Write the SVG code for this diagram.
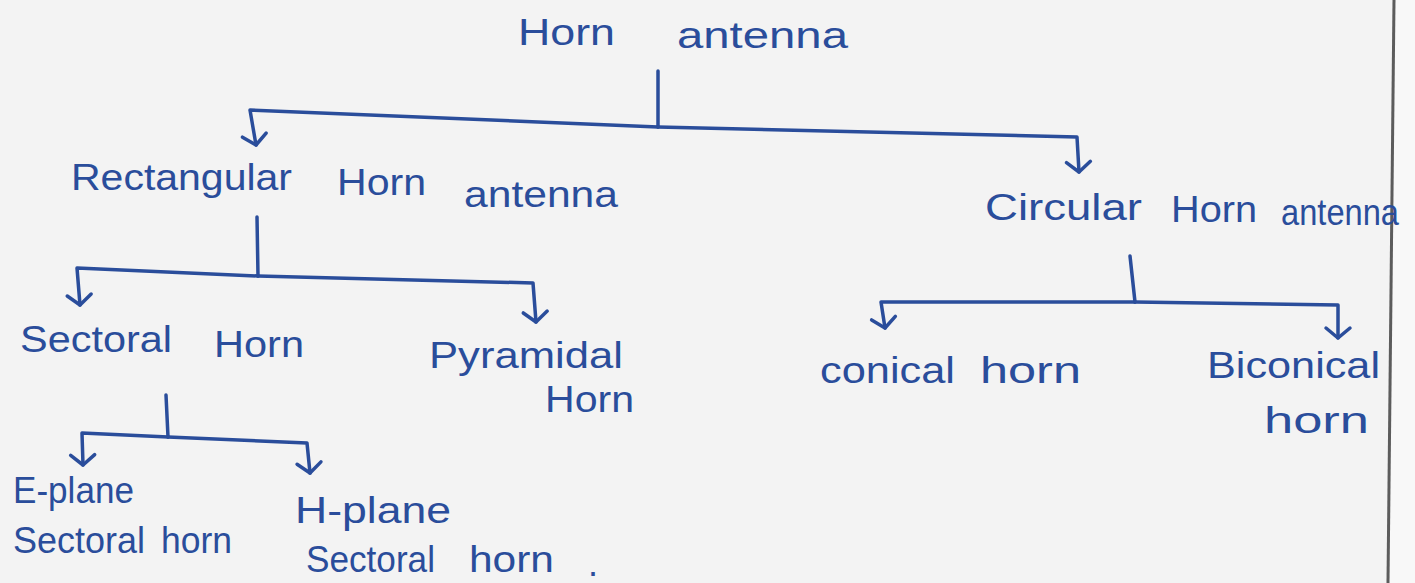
<svg xmlns="http://www.w3.org/2000/svg" width="1415" height="583" viewBox="0 0 1415 583">
<style>
.t{font-family:"Liberation Sans","DejaVu Sans",sans-serif;fill:#2a4d9b;font-size:36px}
.c{fill:none;stroke:#2a4d9b;stroke-width:3.5;stroke-linecap:round;stroke-linejoin:round}
</style>
<defs>
<marker id="ah" viewBox="-14 -16 20 32" markerWidth="20" markerHeight="32" refX="0" refY="0" orient="auto" markerUnits="userSpaceOnUse">
<path d="M-10,-12 L0,0 L-10,12" fill="none" stroke="#2a4d9b" stroke-width="3.5" stroke-linecap="round" stroke-linejoin="round"/>
</marker>
</defs>
<rect x="0" y="0" width="1415" height="583" fill="#f3f3f3"/>
<path d="M1394,0 L1388,583 L1415,583 L1415,0 Z" fill="#f8f8f8"/>
<path d="M1394,0 L1388,583" fill="none" stroke="#5c5c5c" stroke-width="3"/>
<g id="connectors">
<path class="c" d="M658,71 L658,127"/>
<path class="c" d="M658,127 L250,110 L256,145" marker-end="url(#ah)"/>
<path class="c" d="M658,127 L1077,137 L1079,172" marker-end="url(#ah)"/>
<path class="c" d="M257,217 L258,276"/>
<path class="c" d="M258,276 L77,268 L80,305" marker-end="url(#ah)"/>
<path class="c" d="M258,276 L533,283 L536,322" marker-end="url(#ah)"/>
<path class="c" d="M1130,256 L1135,302"/>
<path class="c" d="M1135,302 L881,302 L885,328" marker-end="url(#ah)"/>
<path class="c" d="M1135,302 L1338,305 L1338,338" marker-end="url(#ah)"/>
<path class="c" d="M166,395 L168,437"/>
<path class="c" d="M168,437 L82,433 L83,465" marker-end="url(#ah)"/>
<path class="c" d="M168,437 L307,443 L310,473" marker-end="url(#ah)"/>
</g>
<g id="horn-antenna">
<text class="t" x="518" y="45" font-size="40" textLength="97" lengthAdjust="spacingAndGlyphs">Horn</text>
<text class="t" x="677" y="48" font-size="38" textLength="171" lengthAdjust="spacingAndGlyphs">antenna</text>
</g>
<g id="rectangular-horn-antenna">
<text class="t" x="71" y="190" textLength="221" lengthAdjust="spacingAndGlyphs">Rectangular</text>
<text class="t" x="337" y="195" textLength="89" lengthAdjust="spacingAndGlyphs">Horn</text>
<text class="t" x="464" y="207" textLength="154" lengthAdjust="spacingAndGlyphs">antenna</text>
</g>
<g id="circular-horn-antenna">
<text class="t" x="985" y="220" textLength="157" lengthAdjust="spacingAndGlyphs">Circular</text>
<text class="t" x="1171" y="222" textLength="86" lengthAdjust="spacingAndGlyphs">Horn</text>
<text class="t" x="1281" y="225" textLength="118" lengthAdjust="spacingAndGlyphs">antenna</text>
</g>
<g id="sectoral-horn">
<text class="t" x="20" y="352" font-size="34" textLength="152" lengthAdjust="spacingAndGlyphs">Sectoral</text>
<text class="t" x="214" y="357" font-size="34" textLength="90" lengthAdjust="spacingAndGlyphs">Horn</text>
</g>
<g id="pyramidal-horn">
<text class="t" x="429" y="368" font-size="34" textLength="194" lengthAdjust="spacingAndGlyphs">Pyramidal</text>
<text class="t" x="545" y="412" font-size="32" textLength="89" lengthAdjust="spacingAndGlyphs">Horn</text>
</g>
<g id="conical-horn">
<text class="t" x="820" y="383" textLength="135" lengthAdjust="spacingAndGlyphs">conical</text>
<text class="t" x="980" y="383" textLength="101" lengthAdjust="spacingAndGlyphs">horn</text>
</g>
<g id="biconical-horn">
<text class="t" x="1207" y="378" textLength="173" lengthAdjust="spacingAndGlyphs">Biconical</text>
<text class="t" x="1264" y="433" textLength="105" lengthAdjust="spacingAndGlyphs">horn</text>
</g>
<g id="e-plane-sectoral-horn">
<text class="t" x="13" y="503" font-size="32" textLength="121" lengthAdjust="spacingAndGlyphs">E-plane</text>
<text class="t" x="13" y="553" font-size="30" textLength="132" lengthAdjust="spacingAndGlyphs">Sectoral</text>
<text class="t" x="161" y="553" font-size="30" textLength="71" lengthAdjust="spacingAndGlyphs">horn</text>
</g>
<g id="h-plane-sectoral-horn">
<text class="t" x="295" y="523" font-size="34" textLength="156" lengthAdjust="spacingAndGlyphs">H-plane</text>
<text class="t" x="306" y="572" font-size="32" textLength="129" lengthAdjust="spacingAndGlyphs">Sectoral</text>
<text class="t" x="469" y="572" font-size="34" textLength="85" lengthAdjust="spacingAndGlyphs">horn</text>
<text class="t" x="588" y="576" font-size="30">.</text>
</g>
</svg>
